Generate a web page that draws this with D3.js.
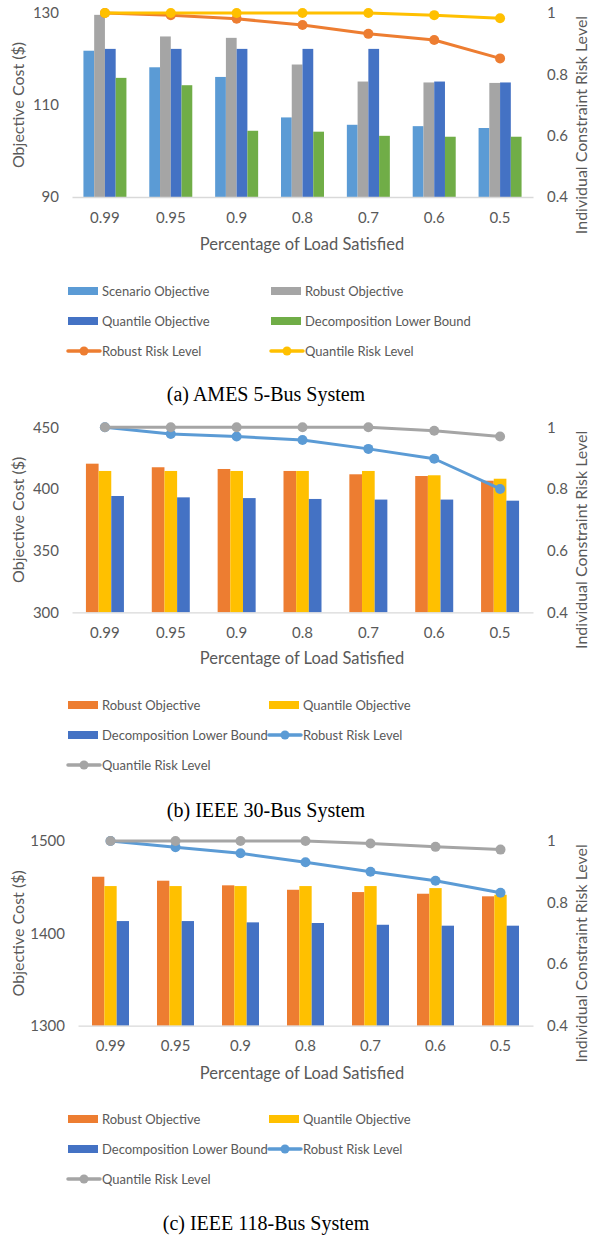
<!DOCTYPE html>
<html><head><meta charset="utf-8">
<script src="https://cdn.jsdelivr.net/npm/d3@7"></script>
<style>
body{margin:0;background:#fff;}
svg{display:block;}
</style></head>
<body>
<script>
const categories = ["0.99","0.95","0.9","0.8","0.7","0.6","0.5"];

// Panel (a) AMES 5-Bus
const aScenarioObj = [121.8,118.2,116.1,107.3,105.7,105.4,105.0];
const aRobustObj   = [129.6,124.9,124.6,118.8,115.1,114.9,114.8];
const aQuantileObj = [122.2,122.2,122.2,122.2,122.2,115.1,114.9];
const aDecompLB    = [115.9,114.3,104.4,104.2,103.3,103.1,103.1];
const aRobustRisk  = [1.0,0.993,0.981,0.961,0.932,0.912,0.852];
const aQuantRisk   = [1.0,1.0,1.0,1.0,1.0,0.993,0.983];
const aLeftTicks = [90,110,130];

// Panel (b) IEEE 30-Bus
const bRobustObj   = [420.5,417.6,416.2,414.6,411.9,410.5,406.7];
const bQuantileObj = [414.6,414.6,414.6,414.6,414.6,411.1,408.3];
const bDecompLB    = [394.3,393.2,392.6,391.9,391.4,391.4,390.5];
const bRobustRisk  = [1.0,0.978,0.97,0.959,0.93,0.898,0.80];
const bQuantRisk   = [1.0,1.0,1.0,1.0,1.0,0.989,0.97];
const bLeftTicks = [300,350,400,450];

// Panel (c) IEEE 118-Bus
const cRobustObj   = [1461.3,1457.0,1452.0,1447.2,1444.7,1442.9,1440.1];
const cQuantileObj = [1451.2,1451.2,1451.2,1451.2,1451.2,1449.0,1441.8];
const cDecompLB    = [1413.3,1413.3,1411.9,1411.2,1409.3,1408.3,1408.3];
const cRobustRisk  = [1.0,0.98,0.96,0.931,0.90,0.871,0.832];
const cQuantRisk   = [1.0,1.0,1.0,1.0,0.992,0.981,0.972];
const cLeftTicks = [1300,1400,1500];

const rightTicks = [0.4,0.6,0.8,1];
const rightTickLabels = ["0.4","0.6","0.8","1"];

const C = {lblue:"#5B9BD5", gray:"#A5A5A5", dblue:"#4472C4", green:"#70AD47", orange:"#ED7D31", yellow:"#FFC000"};
const textCol = "#595959";
const font = "Lato, 'Open Sans', sans-serif";

const svg = d3.select("body").append("svg").attr("width",590).attr("height",1236);

function panel(o){
  const g = svg.append("g").attr("transform",`translate(0,${o.top})`);
  const x = d3.scaleBand().domain(categories).range([o.x0, 533]);
  const y = d3.scaleLinear().domain(o.yDomain).range([o.plotH + o.yTop, o.yTop]);
  const y2 = d3.scaleLinear().domain([0.4,1]).range([o.plotH + o.yTop, o.yTop]);
  const inner = d3.scaleBand().domain(o.bars.map(b=>b.name)).range([-o.groupW/2, o.groupW/2]);

  // bars
  o.bars.forEach(b=>{
    g.append("g").selectAll("rect").data(b.values).join("rect")
      .attr("x",(d,i)=>x(categories[i]) + x.bandwidth()/2 + inner(b.name))
      .attr("width",inner.bandwidth())
      .attr("y",d=>y(d))
      .attr("height",d=>y(o.yDomain[0]) - y(d))
      .attr("fill",b.color);
  });

  // baseline axis
  const xAxis = g.append("g").attr("transform",`translate(0,${y(o.yDomain[0])})`)
    .call(d3.axisBottom(x).tickSize(0).tickPadding(15));
  xAxis.select(".domain").attr("stroke","#d9d9d9").attr("stroke-width",1.3);
  xAxis.selectAll("text").attr("fill",textCol).style("font-family",font).style("font-size","15px");

  const yAxis = g.append("g").attr("transform",`translate(${o.x0 - 13},0)`)
    .call(d3.axisLeft(y).tickValues(o.leftTicks).tickFormat(d3.format("d")).tickSize(0).tickPadding(0));
  yAxis.select(".domain").remove();
  yAxis.selectAll("text").attr("fill",textCol).style("font-family",font).style("font-size","15px");

  const y2Axis = g.append("g").attr("transform",`translate(547,0)`)
    .call(d3.axisRight(y2).tickValues(rightTicks).tickFormat((d,i)=>rightTickLabels[i]).tickSize(0).tickPadding(0));
  y2Axis.select(".domain").remove();
  y2Axis.selectAll("text").attr("fill",textCol).style("font-family",font).style("font-size","15px");

  // lines
  o.lines.forEach(l=>{
    const line = d3.line().x((d,i)=>x(categories[i]) + x.bandwidth()/2).y(d=>y2(d));
    g.append("path").datum(l.values).attr("d",line).attr("fill","none")
      .attr("stroke",l.color).attr("stroke-width",3).attr("stroke-linejoin","round");
    g.append("g").selectAll("circle").data(l.values).join("circle")
      .attr("cx",(d,i)=>x(categories[i]) + x.bandwidth()/2).attr("cy",d=>y2(d))
      .attr("r",5).attr("fill",l.color);
  });

  // axis titles
  g.append("text").attr("transform",`translate(${o.leftTitleX},${o.yTop + o.plotH/2}) rotate(-90)`)
    .attr("text-anchor","middle").attr("dominant-baseline","central")
    .attr("fill",textCol).style("font-family",font).style("font-size","16px").text("Objective Cost ($)");
  g.append("text").attr("transform",`translate(580,${o.yTop + o.plotH/2 + 20}) rotate(-90)`)
    .attr("text-anchor","middle").attr("dominant-baseline","central")
    .attr("fill",textCol).style("font-family",font).style("font-size","16px").text("Individual Constraint Risk Level");
  g.append("text").attr("x",302).attr("y",o.xTitleY).attr("text-anchor","middle").attr("dominant-baseline","central")
    .attr("fill",textCol).style("font-family",font).style("font-size","16.5px").text("Percentage of Load Satisfied");

  // legend
  const items = o.bars.map(b=>({name:b.name,color:b.color,type:"bar"}))
    .concat(o.lines.map(l=>({name:l.name,color:l.color,type:"line"})));
  items.forEach((it,i)=>{
    const col = i%2, row = Math.floor(i/2);
    const lx = col===0 ? 68 : o.legendCol2;
    const ly = o.legendY + row*30;
    if(it.type==="bar"){
      g.append("rect").attr("x",lx).attr("y",ly-4).attr("width",30).attr("height",8).attr("fill",it.color);
    } else {
      g.append("line").attr("x1",lx).attr("x2",lx+32).attr("y1",ly).attr("y2",ly)
        .attr("stroke",it.color).attr("stroke-width",3.5).attr("stroke-linecap","round");
      g.append("circle").attr("cx",lx+16).attr("cy",ly).attr("r",4.5).attr("fill",it.color);
    }
    g.append("text").attr("x",lx+34).attr("y",ly).attr("dominant-baseline","central")
      .attr("fill",textCol).style("font-family",font).style("font-size","13px").text(it.name);
  });

  // caption
  g.append("text").attr("x",o.captionX).attr("y",o.captionY).attr("text-anchor","middle").attr("dominant-baseline","central")
    .attr("fill","#000").style("font-family","'Liberation Serif', 'Times New Roman', serif").style("font-size","20px").text(o.caption);
}

panel({top:0, x0:72, yTop:13, plotH:184, yDomain:[90,130], leftTicks:aLeftTicks, groupW:43, leftTitleX:17,
  bars:[{name:"Scenario Objective",color:C.lblue,values:aScenarioObj},
        {name:"Robust Objective",color:C.gray,values:aRobustObj},
        {name:"Quantile Objective",color:C.dblue,values:aQuantileObj},
        {name:"Decomposition Lower Bound",color:C.green,values:aDecompLB}],
  lines:[{name:"Robust Risk Level",color:C.orange,values:aRobustRisk},
         {name:"Quantile Risk Level",color:C.yellow,values:aQuantRisk}],
  xTitleY:244, legendY:291, legendCol2:271, caption:"(a) AMES 5-Bus System", captionX:266, captionY:394});

panel({top:410, x0:72, yTop:17.3, plotH:185, yDomain:[300,450], leftTicks:bLeftTicks, groupW:38, leftTitleX:17,
  bars:[{name:"Robust Objective",color:C.orange,values:bRobustObj},
        {name:"Quantile Objective",color:C.yellow,values:bQuantileObj},
        {name:"Decomposition Lower Bound",color:C.dblue,values:bDecompLB}],
  lines:[{name:"Robust Risk Level",color:"#5B9BD5",values:bRobustRisk},
         {name:"Quantile Risk Level",color:C.gray,values:bQuantRisk}],
  xTitleY:248, legendY:295, legendCol2:269, caption:"(b) IEEE 30-Bus System", captionX:266, captionY:400});

panel({top:820, x0:78, yTop:21, plotH:184.7, yDomain:[1300,1500], leftTicks:cLeftTicks, groupW:37, leftTitleX:17,
  bars:[{name:"Robust Objective",color:C.orange,values:cRobustObj},
        {name:"Quantile Objective",color:C.yellow,values:cQuantileObj},
        {name:"Decomposition Lower Bound",color:C.dblue,values:cDecompLB}],
  lines:[{name:"Robust Risk Level",color:"#5B9BD5",values:cRobustRisk},
         {name:"Quantile Risk Level",color:C.gray,values:cQuantRisk}],
  xTitleY:253, legendY:299, legendCol2:269, caption:"(c) IEEE 118-Bus System", captionX:266, captionY:403});
</script>
</body></html>
